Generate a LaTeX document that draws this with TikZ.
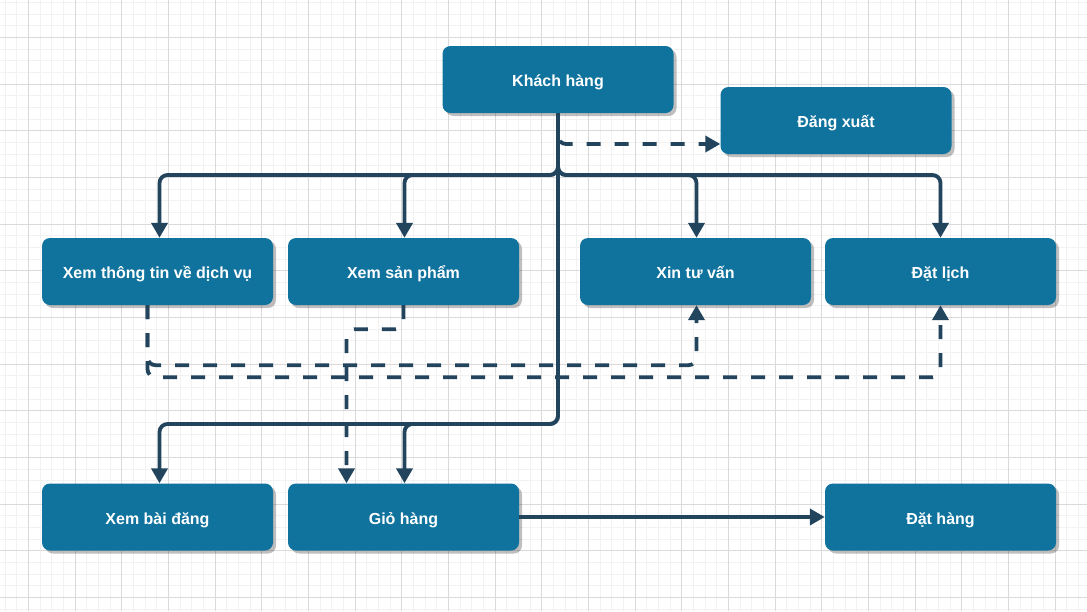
\documentclass[tikz,border=0pt]{standalone}
\usepackage{fontspec}
\setmainfont{Liberation Sans}
\usetikzlibrary{arrows.meta,shadows}
\definecolor{boxblue}{HTML}{10739E}
\definecolor{edgecol}{HTML}{23445D}
\definecolor{gridminor}{HTML}{F2F2F2}
\definecolor{gridmajor}{HTML}{DADADA}

\begin{document}
\begin{tikzpicture}[x=1pt,y=-1pt,
  box/.style={rectangle, rounded corners=8pt, fill=boxblue, text=white,
    font=\fontsize{16}{18}\selectfont\bfseries,
    minimum width=231pt, minimum height=67pt, inner sep=0pt,
    text height=14pt, text depth=0pt,
    drop shadow={shadow xshift=3pt, shadow yshift=-3pt, fill=black, opacity=0.25}},
  link/.style={draw=edgecol, line width=3.8pt, rounded corners=8pt,
    -{Triangle[length=15pt,width=16pt]}},
  dlink/.style={link, dash pattern=on 14pt off 14pt},
  minorline/.style={draw=gridminor, line width=0.7pt},
  majorline/.style={draw=gridmajor, line width=0.8pt},
]
\useasboundingbox (0,0) rectangle (1087,611);
\fill[white] (0,0) rectangle (1087,611);

% background grid
\foreach \i in {0,...,93} \draw[minorline] ({5+11.6667*\i},0) -- ({5+11.6667*\i},611);
\foreach \j in {0,...,52} \draw[minorline] (0,{2.33+11.6667*\j}) -- (1087,{2.33+11.6667*\j});
\foreach \i in {0,...,22} \draw[majorline] ({28.33+46.667*\i},0) -- ({28.33+46.667*\i},611);
\foreach \j in {0,...,12} \draw[majorline] (0,{37.33+46.667*\j}) -- (1087,{37.33+46.667*\j});

% boxes
\node[box] (kh)   at (558,79.5)   {Khách hàng};
\node[box] (dx)   at (836,120.5)  {Đăng xuất};
\node[box] (ttdv) at (157.5,271.5) {Xem thông tin về dịch vụ};
\node[box] (sp)   at (403.5,271.5) {Xem sản phẩm};
\node[box] (tv)   at (695.5,271.5) {Xin tư vấn};
\node[box] (dl)   at (940.5,271.5) {Đặt lịch};
\node[box] (bd)   at (157.5,517)   {Xem bài đăng};
\node[box] (gh)   at (403.5,517)   {Giỏ hàng};
\node[box] (dh)   at (940.5,517)   {Đặt hàng};

% bus levels of the trunk
\coordinate (busTop) at (558,175);
\coordinate (busLow) at (558,424);

% solid links from the customer box
\draw[link] (kh.south) -- (kh.south |- busTop) -| ([xshift=2pt]ttdv.north);
\draw[link] (kh.south) -- (kh.south |- busTop) -| ([xshift=1pt]sp.north);
\draw[link] (kh.south) -- (kh.south |- busTop) -| ([xshift=1pt]tv.north);
\draw[link] (kh.south) -- (kh.south |- busTop) -| (dl.north);
\draw[link] (kh.south) -- (kh.south |- busLow) -| ([xshift=2pt]bd.north);
\draw[link] (kh.south) -- (kh.south |- busLow) -| ([xshift=1pt]gh.north);
\draw[link] (gh.east) -- (dh.west);

% dashed links
\draw[dlink] (kh.south) |- ([yshift=-23.5pt]dx.west);
\draw[dlink] ([xshift=-10pt]ttdv.south) -- ++(0,60) -| ([xshift=1pt]tv.south);
\draw[dlink] ([xshift=-10pt]ttdv.south) -- ++(0,72) -| (dl.south);
\draw[dlink] (sp.south) -- ++(0,24) -| ([xshift=-57pt]gh.north);
\end{tikzpicture}
\end{document}
